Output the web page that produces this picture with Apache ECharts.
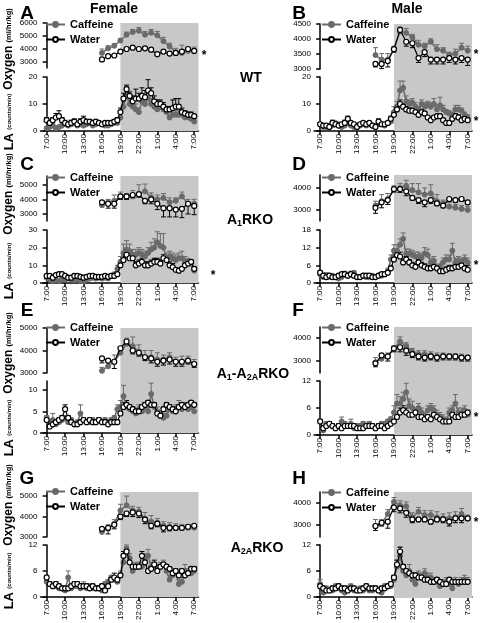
<!DOCTYPE html>
<html><head><meta charset="utf-8">
<script src="https://cdn.jsdelivr.net/npm/echarts@6/dist/echarts.min.js"></script>
<style>html,body{margin:0;padding:0;background:#fff}#c{width:480px;height:623px}</style>
</head><body><div id="c"></div><script>
// ---- axis / time data ----
const tickHours = [0,3,6,9,12,15,18,21,24];
const tickLabels = ['7:00','10:00','13:00','16:00','19:00','22:00','1:00','4:00','7:00'];
const hoursO2 = [9,10,11,12,13,14,15,16,17,18,19,20,21,22,23,24];
const hoursLA = [0,0.5,1,1.5,2,2.5,3,3.5,4,4.5,5,5.5,6,6.5,7,7.5,8,8.5,9,9.5,10,10.5,11,11.5,
  12,12.5,13,13.5,14,14.5,15,15.5,16,16.5,17,17.5,18,18.5,19,19.5,20,20.5,21,21.5,22,22.5,23,23.5,24];

// ---- A: Female WT ----
const aO2Caff = [3700,4050,4250,4650,5100,5300,5400,5100,5250,5050,4600,4200,3750,3700,3850,3850];
const aO2CaffErr = [300,200,150,150,200,200,250,250,250,300,300,250,300,600,250,300];
const aO2Water = [3200,3450,3500,3800,4000,4100,4000,4050,3950,3600,3800,3650,3700,3800,4000,3850];
const aO2WaterErr = [150,100,100,100,100,100,100,100,150,100,100,100,150,150,200,100];
const aLACaff = [1,1.5,2,1,1.5,2,2.5,2,2.5,3,2,2.5,2,2.5,3,2,2.5,3,2.5,2,2,2.5,3,3,
  5,9,13,10,9,8,7,11,10,12,10,9,8,9,8,7,5,6,6,6,6,5,5,4.5,3.5];
const aLACaffErr = [0.5,0.5,1,0.5,0.5,1,1.5,0.5,1,1,0.5,1,0.5,1,0.5,0.5,1,0.5,0.5,0.5,0.5,1,1,1,
  1.5,2,3.5,2,2,2,1.5,2,2.5,2,2,2,2,2,1.5,1.5,1,1.5,1.5,1.5,1,1,1,1,1];
const aLAWater = [4,3,4,5,5.5,4,3,2.5,3,3.5,2.5,3.5,4,3.5,3.5,3,3.5,3,2.5,3,3,3,3.5,4,
  7,12,15.5,13,11,12,12,13,12.5,15,14,11,10,10,9,8,8,8.5,9,9,7,6.5,6,6,5.5];
const aLAWaterErr = [1,1,1,1.5,2,1,0.5,0.5,1,1,0.5,1,1.5,0.5,0.5,0.5,0.5,0.5,0.5,0.5,0.5,0.5,0.5,1,
  1.5,2,1.5,1.5,2,3.5,2,3,2.5,4,2,2,1.5,1.5,1.5,1,1,3,3,3,1.5,1,1,1,0.5];
// ---- B: Male WT ----
const bO2Caff = [3450,3300,3300,3650,4250,4200,4050,3800,3750,3900,3650,3600,3450,3500,3700,3600];
const bO2CaffErr = [250,200,200,100,150,150,100,150,100,100,150,100,100,150,150,150];
const bO2Water = [3150,3150,3250,3650,4300,3900,3850,3350,3550,3300,3300,3300,3350,3300,3350,3300];
const bO2WaterErr = [100,150,200,100,100,150,150,150,150,150,150,150,150,150,150,200];
const bLACaff = [2.5,1.5,1.5,2,2,3,2.5,1.5,2,3,2,1.5,1.5,2,2.5,2,2.5,2,2,2.5,2.5,2,3,3.5,
  7,9,15,16,11,10,10.5,9,8,10,9,9.5,9,10,8,9.5,8,7,6.5,6,8,8,7.5,6,5];
const bLACaffErr = [0.5,0.5,0.5,0.5,0.5,0.5,0.5,0.5,0.5,0.5,0.5,0.5,0.5,0.5,0.5,0.5,0.5,0.5,0.5,0.5,0.5,0.5,0.5,1,
  2,2,3.5,2.5,2,1.5,1.5,1.5,1,1.5,1.5,1.5,1.5,2,1.5,3,1.5,1,1,1,1.5,1.5,1,1,1];
const bLAWater = [2.5,2,2,1.5,3,2.5,2,2.5,3,4.5,3,2.5,1.5,2.5,3,2.5,3,2,1.5,3.5,2.5,2.5,3,4.5,
  6,8,10,9,8,7.5,7.5,7,6,7,6.5,5,4,5,5.5,5.5,4,3,3,4.5,5.5,5,4,4.5,4];
const bLAWaterErr = [0.5,0.5,0.5,0.5,1,0.5,0.5,0.5,1,1,0.5,0.5,0.5,0.5,0.5,0.5,0.5,0.5,0.5,1,0.5,0.5,0.5,1,
  1,1.5,1.5,1,1,1,1,1,0.5,1,0.5,0.5,0.5,0.5,0.5,0.5,0.5,0.5,0.5,0.5,1,1,0.5,0.5,0.5];
// ---- C: Female A1RKO ----
const cO2Caff = [3600,3800,3900,4200,4200,4200,4400,4550,4150,4000,4100,3800,3900,4200,3700,3700];
const cO2CaffErr = [300,200,400,300,200,400,600,500,300,300,300,300,200,300,300,300];
const cO2Water = [3800,3700,3700,4200,4200,4300,4350,3900,4000,3700,3400,3400,3300,3350,3700,3550];
const cO2WaterErr = [200,300,300,200,200,200,200,200,300,400,600,600,500,600,700,600];
const cLACaff = [3,2,1,1.5,1,2,2,2.5,2,1.5,2,1,1,2,2.5,3,2.5,3,2.5,3,2.5,4,5,8,
  12,17,19,18,16,16,17,16,15,17,19,20,23,21,20,14,15,14,13,14,14,12,12,11,7];
const cLACaffErr = [1,0.5,0.5,0.5,0.5,0.5,0.5,0.5,0.5,0.5,0.5,0.5,0.5,0.5,0.5,0.5,0.5,0.5,0.5,0.5,0.5,1,1,2,
  3,5,5,4,3,3,3,3,3,3,4,5,6,7,8,3,3,3,3,3,4,3,2,2,1.5];
const cLAWater = [4,4,3,4.5,5,5,4,3,3,4,4,3.5,3,3.5,4,4,3.5,3.5,3.5,4,3.5,4,4,5,
  10,13,16,14,14,10,11,12,10,10,11,12,12,11,14,13,10,9,7.5,7,8,10,11,12,8];
const cLAWaterErr = [0.5,0.5,0.5,0.5,1,0.5,0.5,0.5,0.5,0.5,0.5,0.5,0.5,0.5,0.5,0.5,0.5,0.5,0.5,0.5,0.5,0.5,0.5,0.5,
  2,3,3,2,2,2,2,2,2,2,2,2,2,2,2,2,2,2,1,1,1,1,1,1,1];
// ---- D: Male A1RKO ----
const dO2Caff = [3200,3400,3500,3900,4000,4100,3900,3800,3700,3750,3400,3300,3150,3100,3050,3000];
const dO2CaffErr = [200,300,250,200,200,250,300,400,300,400,300,150,200,150,150,150];
const dO2Water = [3100,3350,3450,3950,3950,3850,3550,3450,3350,3450,3300,3200,3500,3450,3500,3350];
const dO2WaterErr = [250,250,200,150,150,200,100,150,200,150,100,100,100,100,100,100];
const dLACaff = [3,2,2.5,2,2.5,2,1.5,2,3,2.5,3,3.5,2,2,2.5,2,2,2.5,2,2.5,2.5,3,4,8,
  11,11,13,15,10,10,9.5,9,9,8.5,10,9.5,7,7.5,5,5.5,7,8,8,11,7,7.5,7,8,7];
const dLACaffErr = [0.5,0.5,1,0.5,0.5,0.5,0.5,0.5,1,0.5,1,0.5,0.5,0.5,0.5,0.5,0.5,0.5,0.5,0.5,0.5,0.5,1,1.5,
  2,2,2,2,1.5,1.5,1.5,1.5,1.5,1.5,2,2,1.5,1.5,1,1,1.5,1.5,1.5,2.5,1.5,1.5,1.5,1.5,1.5];
const dLAWater = [3.5,2.5,2,2.5,2,2,2.5,3,3,2.5,3,2.5,2,2,2.5,2.5,2.5,2,2,2.5,3,3,3.5,5,
  8,9.5,9,7,8,7,6,5.5,7,6,5.5,5,5,5.5,5,4,4,4.5,5,5,5.5,5.5,6,5,4.5];
const dLAWaterErr = [0.5,0.5,0.5,0.5,0.5,0.5,0.5,0.5,0.5,0.5,0.5,0.5,0.5,0.5,0.5,0.5,0.5,0.5,0.5,0.5,0.5,0.5,0.5,1,
  1.5,1.5,1.5,1,1,1,1,1,1,1,1,1,1,1,1,1,1,1,1,1,1,1,1,1,1.5];
// ---- E: Female A1-A2ARKO ----
const eO2Caff = [3100,3300,3500,3900,4300,4200,3950,3700,3700,3600,3600,3700,3500,3450,3550,3400];
const eO2CaffErr = [150,200,300,200,250,400,300,300,300,300,200,200,200,300,200,200];
const eO2Water = [3650,3550,3500,4100,4400,4000,3900,3700,3650,3500,3550,3600,3500,3500,3550,3400];
const eO2WaterErr = [200,250,300,150,150,150,150,150,200,200,200,200,200,200,150,150];
const eLACaff = [3.5,2.5,3,2,2.5,3,3.5,2.5,3,2,2.5,4.5,3,2.5,2.5,3,2.5,3,2.5,3,2.5,3,3.5,5.5,
  6,8.5,6,5.5,5,4.5,5.5,5,6,5,9,6,5,4,3.5,4,5.5,5,5.5,6,5.5,6,5.5,6,5];
const eLACaffErr = [0.5,0.5,1.5,0.5,0.5,0.5,0.5,0.5,0.5,0.5,0.5,2,0.5,0.5,0.5,0.5,0.5,0.5,0.5,0.5,0.5,0.5,0.5,1,
  1.5,2.5,1,1,1,1,1,1,1,1,2.5,1,1,1,1,1,1,1,1,1.5,1,1,1,1,1];
const eLAWater = [3,1.5,2,2.5,3,3.5,5.5,3.5,2.5,2,2,2.5,3,2.5,3,2.5,2.5,3,2.5,2.5,2,2.5,2.5,2.5,
  4.5,6,6.5,6,5.5,5,5,6,6.5,7,6.5,6.5,4.5,4,5.5,6.5,6,5.5,5,6,6.5,6,6.5,7,6.5];
const eLAWaterErr = [0.5,0.5,0.5,0.5,0.5,0.5,1,0.5,0.5,0.5,0.5,0.5,0.5,0.5,0.5,0.5,0.5,0.5,0.5,0.5,0.5,0.5,0.5,0.5,
  0.5,1,1,0.5,0.5,0.5,0.5,0.5,0.5,0.5,0.5,0.5,0.5,0.5,0.5,0.5,0.5,0.5,0.5,0.5,0.5,0.5,0.5,0.5,0.5];
// ---- F: Male A1-A2ARKO ----
const fO2Caff = [2950,3100,3200,3550,3850,3650,3400,3300,3300,3250,3200,3200,3150,3150,3150,3100];
const fO2CaffErr = [200,150,150,100,200,150,150,150,150,150,150,150,150,150,150,150];
const fO2Water = [2900,3250,3200,3550,3600,3450,3300,3200,3150,3200,3150,3200,3200,3200,3150,3150];
const fO2WaterErr = [150,100,200,150,200,200,150,150,150,150,150,150,150,150,150,150];
const fLACaff = [3,1,2.5,2.5,2,1.5,2,3,2.5,2,2.5,1.5,2,2,2.5,2,2.5,2,1.5,2,2.5,2.5,3,3.5,
  5,7,7,8,9.5,6.5,6,5,6,5,4,5.5,6,5.5,4.5,4,3.5,3,5,5.5,7,5,5,5.5,4.5];
const fLACaffErr = [0.5,0.5,0.5,0.5,0.5,0.5,0.5,1,0.5,0.5,1,0.5,0.5,0.5,0.5,0.5,0.5,0.5,0.5,0.5,0.5,0.5,0.5,0.5,
  1.5,2,1.5,1.5,2,1.5,1.5,1,1,1,1,1,1,1,1,1,1,1,1,1,2,1,1,1,1];
const fLAWater = [3,1.5,2,2.5,2,1.5,2,1.5,2,2,2,2,1.5,1.5,1.5,2,2,2,1.5,2,2,1.5,2,2.5,
  3,4,5,5.5,5,4.5,4.5,5,4,4,3.5,4,3.5,4.5,4,3.5,3,3,3,4.5,4,4,4.5,4.5,5];
const fLAWaterErr = [0.5,0.5,0.5,0.5,0.5,0.5,0.5,0.5,0.5,0.5,0.5,0.5,0.5,0.5,0.5,0.5,0.5,0.5,0.5,0.5,0.5,0.5,0.5,0.5,
  0.5,0.5,1,1,1,0.5,0.5,0.5,0.5,0.5,0.5,0.5,0.5,0.5,0.5,0.5,0.5,0.5,0.5,0.5,0.5,0.5,0.5,0.5,0.5];
// ---- G: Female A2ARKO ----
const gO2Caff = [3250,3400,3650,4300,4550,4300,4250,3900,3750,3700,3550,3500,3450,3450,3450,3450];
const gO2CaffErr = [200,200,200,300,450,200,200,300,300,200,200,200,200,150,150,150];
const gO2Water = [3400,3450,3600,4000,4150,4200,4150,3850,3550,3650,3450,3450,3450,3450,3500,3550];
const gO2WaterErr = [100,300,200,150,150,200,200,200,150,150,200,150,100,100,100,100];
const gLACaff = [3.5,3,2.5,2.5,2,2,1.5,4.5,2,2.5,2.5,2,2.5,2,2.5,2,2,2,1.5,3,3.5,4.5,4,3.5,
  5,8,11,9,6,7,7,7,9,9.5,7,7,6.5,7,7.5,6,4,5,5.5,3,3.5,6,5.5,5.5,6];
const gLACaffErr = [0.5,0.5,0.5,0.5,0.5,0.5,0.5,1.5,0.5,0.5,0.5,0.5,1,0.5,0.5,0.5,0.5,0.5,0.5,0.5,0.5,0.5,0.5,0.5,
  1,1.5,1,1,1,1,1,1,1,1.5,1,1,1,1,1,1,1,1,1,1,1,1.5,1,1,1];
const gLAWater = [4.5,3,2.5,3,2.5,2,2,2,2.5,3,3,2.5,2.5,2.5,2,2.5,2,2,2.5,1.5,2.5,4,4.5,4,
  5,9.5,10.5,8,7,7,7,9.5,8,6,6.5,7.5,6,7,7.5,7,6.5,5.5,6,5,6,5,5.5,6.5,6.5];
const gLAWaterErr = [0.5,0.5,0.5,0.5,0.5,0.5,0.5,0.5,0.5,0.5,0.5,0.5,0.5,0.5,0.5,0.5,0.5,0.5,0.5,0.5,0.5,0.5,1,0.5,
  0.5,1,1,1,0.5,0.5,0.5,1,1,0.5,0.5,1,0.5,0.5,0.5,0.5,0.5,0.5,0.5,0.5,0.5,0.5,0.5,0.5,0.5];
// ---- H: Male A2ARKO ----
const hO2Caff = [2950,3050,3500,4050,3900,3850,3350,3600,3450,3450,3350,3300,3300,3350,3500,3300];
const hO2CaffErr = [300,200,200,200,200,200,200,200,200,200,250,200,250,250,250,150];
const hO2Water = [2950,3100,3150,3800,3750,3550,3250,3250,3250,3150,3250,3250,3150,3300,3300,3300];
const hO2WaterErr = [200,150,300,200,200,200,150,100,100,100,100,150,200,200,200,100];
const hLACaff = [3,1,2,1.5,1.5,2.5,2,1.5,1,2,2.5,1.5,1.5,2,1.5,2,1.5,1.5,2,1.5,1,2.5,2.5,2.5,
  4,7,9.5,6,5,6,4,3,5,4.5,5.5,4.5,4.5,3.5,3.5,2.5,3,3.5,3,2,3.5,3,3.5,4,3.5];
const hLACaffErr = [1,0.5,0.5,0.5,0.5,0.5,0.5,1,0.5,0.5,0.5,0.5,0.5,0.5,0.5,0.5,0.5,0.5,0.5,0.5,0.5,0.5,0.5,0.5,
  1,1.5,2,1,1,1.5,1,1,1,1,1,1,1,1,1,1,1,1,1,1,1,1,1,1,1];
const hLAWater = [2.5,2,1.5,1.5,2,2,2.5,2,2,1.5,2,2,1.5,1.5,2,2.5,2,2,2,1.5,2,2,2.5,3,
  4.5,7.5,10.5,7,6,5.5,5,5,4.5,4.5,4,4,3.5,3.5,4,3.5,3,3,4,3.5,3.5,3.5,3.5,3.5,3.5];
const hLAWaterErr = [0.5,0.5,0.5,0.5,0.5,0.5,0.5,0.5,0.5,0.5,0.5,0.5,0.5,0.5,0.5,0.5,0.5,0.5,0.5,0.5,0.5,0.5,0.5,0.5,
  0.5,1,1,0.5,0.5,0.5,0.5,0.5,0.5,0.5,0.5,0.5,0.5,0.5,0.5,0.5,0.5,0.5,0.5,0.5,0.5,0.5,0.5,0.5,0.5];

const o2TicksA = [3000,4000,5000,6000], o2TicksB = [3000,3500,4000,4500];
const o2Ticks3 = [3000,4000,5000], o2Ticks2 = [3000,4000];

// ---- layout (positions only) ----
const FONT = 'Liberation Sans, Arial, sans-serif';
const CAFF = '#6a6a6a';
const panels = [
  {left:40.5, o2:[23,45,2540,6000,o2TicksA], la:[77,54,20,[0,10,20]], leg:[45,19],
   d:[aO2Caff,aO2CaffErr,aO2Water,aO2WaterErr,aLACaff,aLACaffErr,aLAWater,aLAWaterErr]},
  {left:314, o2:[24,45,2980,4500,o2TicksB], la:[77,54,20,[0,10,20]], leg:[321,19],
   d:[bO2Caff,bO2CaffErr,bO2Water,bO2WaterErr,bLACaff,bLACaffErr,bLAWater,bLAWaterErr]},
  {left:40.5, o2:[176,45,2520,5600,o2Ticks3], la:[230,53,30,[0,10,20,30]], leg:[45,172],
   d:[cO2Caff,cO2CaffErr,cO2Water,cO2WaterErr,cLACaff,cLACaffErr,cLAWater,cLAWaterErr]},
  {left:314, o2:[175,46,2500,4590,o2Ticks2], la:[230,53,18,[0,6,12,18]], leg:[321,172],
   d:[dO2Caff,dO2CaffErr,dO2Water,dO2WaterErr,dLACaff,dLACaffErr,dLAWater,dLAWaterErr]},
  {left:40.5, o2:[328,45,3000,5000,o2Ticks3], la:[381,52,12,[0,5,10]], leg:[45,322],
   d:[eO2Caff,eO2CaffErr,eO2Water,eO2WaterErr,eLACaff,eLACaffErr,eLAWater,eLAWaterErr]},
  {left:314, o2:[327,46,2480,4480,o2Ticks2], la:[381,54,12,[0,6,12]], leg:[321,322],
   d:[fO2Caff,fO2CaffErr,fO2Water,fO2WaterErr,fLACaff,fLACaffErr,fLAWater,fLAWaterErr]},
  {left:40.5, o2:[492,45,3000,5200,o2Ticks3], la:[545,52,12,[0,6,12]], leg:[45,486],
   d:[gO2Caff,gO2CaffErr,gO2Water,gO2WaterErr,gLACaff,gLACaffErr,gLAWater,gLAWaterErr]},
  {left:314, o2:[492,45,2450,4500,o2Ticks2], la:[545,53,12,[0,6,12]], leg:[321,487],
   d:[hO2Caff,hO2CaffErr,hO2Water,hO2WaterErr,hLACaff,hLACaffErr,hLAWater,hLAWaterErr]}
];
const GW = 158, XMIN = -1, XMAX = 24.7;

const grid = [], xAxis = [], yAxis = [], series = [], legend = [];
function pairs(xs, ys){ return ys.map((v,i)=>[xs[i], v]); }
function triples(xs, ys, es){ return ys.map((v,i)=>[xs[i], v, es[i]]); }
function errSeries(gi, data, dir, color){
  return {type:'custom', xAxisIndex:gi, yAxisIndex:gi, clip:false, z:3, silent:true,
    data, encode:{x:0,y:1},
    renderItem(params, api){
      const x=api.value(0), y=api.value(1), e=api.value(2);
      const p0=api.coord([x,y]), p1=api.coord([x,y+dir*e]);
      const st={stroke:color,lineWidth:1};
      return {type:'group',children:[
        {type:'line',shape:{x1:p0[0],y1:p0[1],x2:p1[0],y2:p1[1]},style:st},
        {type:'line',shape:{x1:p1[0]-2.5,y1:p1[1],x2:p1[0]+2.5,y2:p1[1]},style:st}]};
    }};
}
const axisLine = {show:true, lineStyle:{color:'#000', width:1.5}};
const yLab = v => ({show:true, customValues:v, color:'#000', fontSize:8, fontFamily:FONT, margin:3,
  formatter: val => String(val)});
const yTick = v => ({show:true, customValues:v, length:4, lineStyle:{color:'#000', width:1.5}});

panels.forEach((p, i) => {
  const g0 = i*3, g1 = i*3+1, g2 = i*3+2;
  const [o2Top, o2H, o2Min, o2Max, o2T] = p.o2;
  const [laTop, laH, laMax, laT] = p.la;
  grid.push({left:p.left, top:o2Top, width:GW, height:laTop+laH-o2Top});
  grid.push({left:p.left, top:o2Top, width:GW, height:o2H});
  grid.push({left:p.left, top:laTop, width:GW, height:laH});
  xAxis.push({type:'value', gridIndex:g0, min:XMIN, max:XMAX, show:false});
  xAxis.push({type:'value', gridIndex:g1, min:XMIN, max:XMAX, show:false});
  xAxis.push({type:'value', gridIndex:g2, min:XMIN, max:XMAX, splitLine:{show:false},
    axisLine, axisTick:yTick(tickHours),
    axisLabel:{show:true, customValues:tickHours, rotate:90, color:'#000', fontSize:8, fontFamily:FONT, margin:3,
      formatter: v => tickLabels[tickHours.indexOf(v)]}});
  yAxis.push({type:'value', gridIndex:g0, min:0, max:1, show:false});
  yAxis.push({type:'value', gridIndex:g1, min:o2Min, max:o2Max, splitLine:{show:false},
    axisLine, axisTick:yTick(o2T), axisLabel:yLab(o2T)});
  yAxis.push({type:'value', gridIndex:g2, min:0, max:laMax, splitLine:{show:false},
    axisLine, axisTick:yTick(laT), axisLabel:yLab(laT)});
  series.push({type:'line', xAxisIndex:g0, yAxisIndex:g0, data:[], z:0, silent:true,
    markArea:{silent:true, itemStyle:{color:'#c8c8c8'}, data:[[{xAxis:12},{xAxis:XMAX}]]}});
  const [oc, oce, ow, owe, lc, lce, lw, lwe] = p.d;
  const lineC = {color:CAFF, width:1.5}, lineW = {color:'#000', width:1.2};
  const symC = {color:CAFF, borderColor:CAFF, borderWidth:1};
  const symW = {color:'#fff', borderColor:'#000', borderWidth:1.2};
  series.push(errSeries(g1, triples(hoursO2, oc, oce), 1, CAFF));
  series.push({type:'line', name:'Caffeine', xAxisIndex:g1, yAxisIndex:g1, data:pairs(hoursO2, oc),
    symbol:'circle', symbolSize:5, showAllSymbol:true, lineStyle:lineC, itemStyle:symC, z:4});
  series.push(errSeries(g1, triples(hoursO2, ow, owe), -1, '#000'));
  series.push({type:'line', name:'Water', xAxisIndex:g1, yAxisIndex:g1, data:pairs(hoursO2, ow),
    symbol:'circle', symbolSize:5, showAllSymbol:true, lineStyle:lineW, itemStyle:symW, z:5});
  series.push(errSeries(g2, triples(hoursLA, lc, lce), 1, CAFF));
  series.push(errSeries(g2, triples(hoursLA, lw, lwe), 1, '#000'));
  series.push({type:'line', name:'Caffeine', xAxisIndex:g2, yAxisIndex:g2, data:pairs(hoursLA, lc),
    symbol:'circle', symbolSize:5, showAllSymbol:true, lineStyle:lineC, itemStyle:symC, z:4});
  series.push({type:'line', name:'Water', xAxisIndex:g2, yAxisIndex:g2, data:pairs(hoursLA, lw),
    symbol:'circle', symbolSize:5, showAllSymbol:true, lineStyle:lineW, itemStyle:symW, z:5});
  legend.push({left:p.leg[0], top:p.leg[1], orient:'vertical', padding:0, itemGap:4,
    itemWidth:19, itemHeight:6, data:['Caffeine','Water'], selectedMode:false,
    textStyle:{fontFamily:FONT, fontWeight:'bold', fontSize:11, color:'#000'}});
});

function txt(x, y, text, size, extra){
  return Object.assign({type:'text', x, y, style:{text, fill:'#000', font:'bold '+size+'px '+FONT,
    align:'center', verticalAlign:'middle'}}, extra||{});
}
function richTxt(x, y, text, rich, rot){
  return {type:'text', x, y, rotation:rot||0, style:{text, rich, fill:'#000',
    fontFamily:FONT, fontWeight:'bold', align:'center', verticalAlign:'middle'}};
}
const richRow = {m:{fontSize:14, fontWeight:'bold', fontFamily:FONT, lineHeight:18},
  s:{fontSize:9, fontWeight:'bold', fontFamily:FONT, lineHeight:18, padding:[7,0,0,0]}};
const richO2 = {b:{fontSize:12, fontWeight:'bold', fontFamily:FONT}, s:{fontSize:7.5, fontWeight:'bold', fontFamily:FONT}};
const richLA = {b:{fontSize:13, fontWeight:'bold', fontFamily:FONT}, s:{fontSize:6, fontWeight:'bold', fontFamily:FONT}};
const graphic = [
  txt(27,14,'A',19), txt(299,14,'B',19), txt(27,165,'C',19), txt(299,165,'D',19),
  txt(27,311,'E',19), txt(298,311,'F',19), txt(27,479,'G',19), txt(299,479,'H',19),
  txt(114,9,'Female',14), txt(407,9,'Male',14),
  txt(251,78,'WT',14),
  richTxt(250,220,'{m|A}{s|1}{m|RKO}', richRow),
  richTxt(253,374,'{m|A}{s|1}{m|-A}{s|2A}{m|RKO}', richRow),
  richTxt(257,548,'{m|A}{s|2A}{m|RKO}', richRow),
  richTxt(9,49,'{b|Oxygen} {s|(ml/hr/kg)}', richO2, Math.PI/2),
  richTxt(9,122,'{b|LA} {s|(counts/min)}', richLA, Math.PI/2),
  richTxt(9,194,'{b|Oxygen} {s|(ml/hr/kg)}', richO2, Math.PI/2),
  richTxt(9,271,'{b|LA} {s|(counts/min)}', richLA, Math.PI/2),
  richTxt(9,353,'{b|Oxygen} {s|(ml/hr/kg)}', richO2, Math.PI/2),
  richTxt(9,428,'{b|LA} {s|(counts/min)}', richLA, Math.PI/2),
  richTxt(9,505,'{b|Oxygen} {s|(ml/hr/kg)}', richO2, Math.PI/2),
  richTxt(9,581,'{b|LA} {s|(counts/min)}', richLA, Math.PI/2),
  txt(204,56,'*',12), txt(476,55,'*',12), txt(476,122,'*',12), txt(213,276,'*',12),
  txt(476,266,'*',12), txt(476,418,'*',12), txt(476,523,'*',12)
];

const chart = echarts.init(document.getElementById('c'), null, {renderer:'canvas'});
chart.setOption({animation:false, backgroundColor:'#fff', grid, xAxis, yAxis, series, legend, graphic});
</script></body></html>
